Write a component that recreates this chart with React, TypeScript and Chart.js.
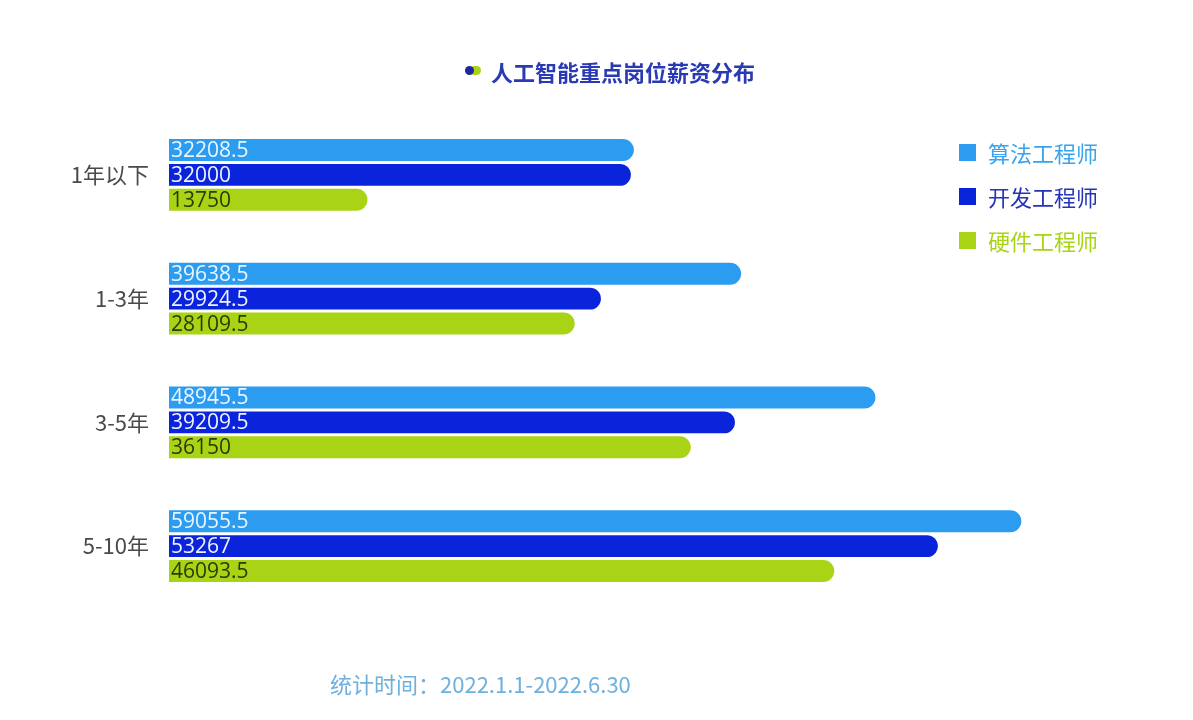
import React, { useEffect, useRef } from "react";
import { Chart, registerables } from "chart.js";

Chart.register(...registerables);

const categories = ["1年以下", "1-3年", "3-5年", "5-10年"];
const algorithmEng = [32208.5, 39638.5, 48945.5, 59055.5];
const developEng = [32000, 29924.5, 39209.5, 53267];
const hardwareEng = [13750, 28109.5, 36150, 46093.5];
const seriesNames = ["算法工程师", "开发工程师", "硬件工程师"];
const seriesColors = ["#2c9cf0", "#0a24dc", "#a9d416"];
const labelColors = ["#eaf5ff", "#eef1ff", "#2e3a05"];
const legendTextColors = ["#3aa3ee", "#2433b8", "#a9d416"];
const titleText = "人工智能重点岗位薪资分布";
const footerText = "统计时间：2022.1.1-2022.6.30";

const valueLabelPlugin = {
  id: "valueLabels",
  afterDatasetsDraw(chart: any) {
    const ctx = chart.ctx;
    ctx.save();
    ctx.font = "21px 'Open Sans', 'Noto Sans', sans-serif";
    ctx.textBaseline = "middle";
    ctx.textAlign = "left";
    chart.data.datasets.forEach((ds: any, di: number) => {
      const meta = chart.getDatasetMeta(di);
      meta.data.forEach((bar: any, i: number) => {
        const v = ds.data[i];
        ctx.fillStyle = labelColors[di];
        ctx.fillText(String(v), bar.base + 2, bar.y + 1);
      });
    });
    ctx.restore();
  },
};

export default function App() {
  const ref = useRef<HTMLCanvasElement | null>(null);
  useEffect(() => {
    document.body.style.margin = "0";
    const chart = new Chart(ref.current as HTMLCanvasElement, {
      type: "bar",
      data: {
        labels: categories,
        datasets: [algorithmEng, developEng, hardwareEng].map((d, i) => ({
          label: seriesNames[i],
          data: d,
          backgroundColor: seriesColors[i],
          borderRadius: 11,
          borderSkipped: "start",
          barPercentage: 0.88,
          categoryPercentage: 0.605,
        })),
      },
      options: {
        indexAxis: "y",
        animation: false,
        responsive: true,
        maintainAspectRatio: false,
        layout: { padding: { top: 113, bottom: 112, left: 0, right: 158 } },
        plugins: {
          legend: { display: false },
          tooltip: { enabled: false },
          title: { display: false },
        },
        scales: {
          x: { display: false, min: 0, max: 60000 },
          y: {
            grid: { display: false, drawTicks: false },
            border: { display: false },
            ticks: {
              padding: 20,
              color: "#4a4a4a",
              font: { size: 22, family: "'Noto Sans CJK SC', sans-serif" },
            },
            afterFit: (s: any) => {
              s.width = 169;
            },
          },
        },
      },
      plugins: [valueLabelPlugin],
    });
    return () => chart.destroy();
  }, []);

  const cjk = "'Noto Sans CJK SC', 'Noto Sans', sans-serif";
  return (
    <div style={{ position: "relative", width: 1193, height: 720, background: "#fff", fontFamily: cjk }}>
      <canvas ref={ref} style={{ position: "absolute", left: 0, top: 0 }} />
      <div style={{ position: "absolute", left: 0, top: 0, width: 1193, height: 720 }}>
        <div style={{ position: "absolute", left: 470, top: 66, width: 11, height: 9, borderRadius: 5, background: "#a9d416" }} />
        <div style={{ position: "absolute", left: 465, top: 66, width: 9, height: 9, borderRadius: 5, background: "#1a2a9a" }} />
        <div style={{ position: "absolute", left: 491, top: 55, fontSize: 22, fontWeight: 700, color: "#2a3ab4", lineHeight: "32px" }}>
          {titleText}
        </div>
        {seriesNames.map((n, i) => (
          <div key={n} style={{ position: "absolute", left: 959, top: 137 + i * 44, height: 30, display: "flex", alignItems: "center" }}>
            <div style={{ width: 17, height: 17, background: seriesColors[i], marginRight: 12 }} />
            <span style={{ fontSize: 22, color: legendTextColors[i], lineHeight: "30px" }}>{n}</span>
          </div>
        ))}
        <div style={{ position: "absolute", left: 330, top: 667, fontSize: 22, color: "#6eb0de", lineHeight: "32px" }}>
          {footerText}
        </div>
      </div>
    </div>
  );
}
